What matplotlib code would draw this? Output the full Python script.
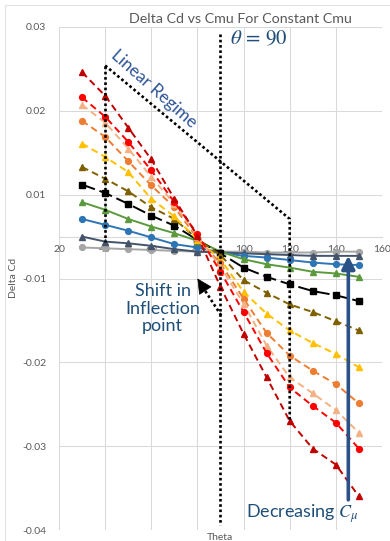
import matplotlib
matplotlib.use("Agg")
import matplotlib.pyplot as plt
from matplotlib.lines import Line2D

plt.rcParams['font.family'] = ['Lato', 'DejaVu Sans']
plt.rcParams['mathtext.fontset'] = 'stix'

# theta (deg)
theta = [30, 40, 50, 60, 70, 80, 90, 100, 110, 120, 130, 140, 150]

# delta Cd, one list per Cmu (largest Cmu first)
cd_darkred = [0.0196, 0.0168, 0.0130, 0.0092, 0.0045, 0.0001, -0.0060, -0.0116, -0.0168, -0.0220, -0.0253, -0.0272, -0.0310]
cd_red     = [0.0166, 0.0143, 0.0113, 0.0079, 0.0041, 0.0003, -0.0042, -0.0090, -0.0139, -0.0180, -0.0202, -0.0222, -0.0253]
cd_salmon  = [0.0157, 0.0136, 0.0105, 0.0071, 0.0039, 0.0000, -0.0036, -0.0080, -0.0130, -0.0168, -0.0187, -0.0207, -0.0234]
cd_orange  = [0.0138, 0.0119, 0.0090, 0.0061, 0.0035, -0.0002, -0.0032, -0.0074, -0.0115, -0.0142, -0.0160, -0.0176, -0.0199]
cd_gold    = [0.0111, 0.0095, 0.0077, 0.0045, 0.0024, -0.0004, -0.0027, -0.0066, -0.0092, -0.0112, -0.0127, -0.0140, -0.0156]
cd_brown   = [0.0083, 0.0069, 0.0054, 0.0035, 0.0021, -0.0003, -0.0022, -0.0052, -0.0067, -0.0081, -0.0090, -0.0101, -0.0112]
cd_black   = [0.0062, 0.0052, 0.0039, 0.0025, 0.0013, -0.0004, -0.0020, -0.0037, -0.0048, -0.0057, -0.0065, -0.0070, -0.0077]
cd_green   = [0.0041, 0.0032, 0.0021, 0.0012, 0.0004, -0.0005, -0.0018, -0.0027, -0.0033, -0.0037, -0.0042, -0.0044, -0.0048]
cd_blue    = [0.0021, 0.0014, 0.0007, -0.0001, -0.0009, -0.0013, -0.0019, -0.0023, -0.0025, -0.0028, -0.0031, -0.0033, -0.0034]
cd_slate   = [0.0000, -0.0006, -0.0008, -0.0011, -0.0015, -0.0018, -0.0019, -0.0020, -0.0021, -0.0022, -0.0023, -0.0023, -0.0023]
cd_gray    = [-0.0013, -0.0014, -0.0015, -0.0016, -0.0017, -0.0018, -0.0018, -0.0018, -0.0019, -0.0019, -0.0019, -0.0018, -0.0018]

xticks = [20, 40, 60, 80, 100, 120, 140, 160]
yticks = [-0.035, -0.025, -0.015, -0.005, 0.005, 0.015, 0.025]
ytick_labels = ["-0.04", "-0.03", "-0.02", "-0.01", "0.01", "0.02", "0.03"]

short = (3.5, 2.2)
longd = (7, 2.5)
series = [
    (cd_gray,    '#A5A5A5', 'o', None),
    (cd_slate,   '#44546A', '^', None),
    (cd_blue,    '#2E75B6', 'o', None),
    (cd_green,   '#5B9A3C', '^', None),
    (cd_black,   '#000000', 's', longd),
    (cd_brown,   '#7F6000', '^', short),
    (cd_gold,    '#FFC000', '^', short),
    (cd_orange,  '#ED7D31', 'o', short),
    (cd_salmon,  '#F4B183', '^', short),
    (cd_red,     '#FF0000', 'o', short),
    (cd_darkred, '#C00000', '^', short),
]

fig = plt.figure(figsize=(3.9, 5.41), dpi=100)
ax = fig.add_axes([59/390, 11/541, 323/390, 503/541])

for vals, col, mk, ds in series:
    line, = ax.plot(theta, vals, color=col, marker=mk, ms=4.2, lw=1.4, zorder=3)
    if ds is not None:
        line.set_dashes(ds)

ax.set_xlim(20, 160)
ax.set_ylim(-0.035, 0.025)
ax.set_xticks(xticks)
ax.set_yticks(yticks)
ax.set_yticklabels(ytick_labels)
ax.grid(True, color='#D9D9D9', lw=0.75)
ax.set_axisbelow(True)
for s in ['top', 'right', 'left']:
    ax.spines[s].set_visible(False)
ax.spines['bottom'].set_position(('data', 0))
ax.spines['bottom'].set_color('#D9D9D9')
ax.tick_params(axis='both', length=0, labelsize=7.5, labelcolor='#595959')
ax.tick_params(axis='x', pad=6)
ax.tick_params(axis='y', pad=9)

# annotations
dot = dict(color='black', lw=1.9, ls=(0, (1, 1)), zorder=5)
ax.plot([40, 40], [0.0204, -0.0007], **dot)
ax.plot([40, 120, 120], [0.0204, 0.0021, -0.0219], **dot)
ax.plot([90, 90], [0.0242, -0.0344], **dot)

navy = '#1F4E79'
ax.text(94.1, 0.0236, r'$\theta\,=\,90$', fontsize=15, color=navy, ha='left', va='center')
ax.text(61.0, 0.0176, 'Linear Regime', fontsize=12.5, color='#2F5597', rotation=-41.5,
        rotation_mode='anchor', ha='center', va='center')
ax.text(64.9, -0.0086, 'Shift in\nInflection\npoint', fontsize=13, color=navy,
        ha='center', va='center', linespacing=1.1)

# dotted arrow towards the shifted inflection point
ax.plot([90.3, 82.0], [-0.0094, -0.0059], **dot)
ax.annotate('', xy=(80.0, -0.0050), xytext=(82.6, -0.0061),
            arrowprops=dict(arrowstyle='-|>,head_width=0.35,head_length=0.7', color='black',
                            lw=0.5, mutation_scale=14, shrinkA=0, shrinkB=0), zorder=5)

ax.annotate('', xy=(145.4, -0.0023), xytext=(145.4, -0.0314),
            arrowprops=dict(arrowstyle='-|>,head_width=0.28,head_length=0.55', color='#2B5287',
                            lw=2.6, mutation_scale=14, shrinkA=0, shrinkB=0), zorder=6)
ax.text(125.5, -0.0330, r'Decreasing $C_\mu$', fontsize=13, color=navy, ha='center', va='center')

fig.text(240/390, 1 - 19/541, 'Delta Cd vs Cmu For Constant Cmu', ha='center', va='center',
         color='#595959', fontsize=10.3)
fig.text(14/390, 1 - 278/541, 'Delta Cd', rotation=90, ha='center', va='center',
         color='#595959', fontsize=7.5)
fig.text(220/390, 8/541, 'Theta', ha='center', va='top', color='#595959', fontsize=7.5)

# faint chart-area border
fig.add_artist(Line2D([5/390, 5/390], [0, 1 - 5/541], color='#E3E3E3', lw=0.8))
fig.add_artist(Line2D([5/390, 1], [1 - 5/541, 1 - 5/541], color='#E3E3E3', lw=0.8))

fig.savefig('out.png', dpi=100)
